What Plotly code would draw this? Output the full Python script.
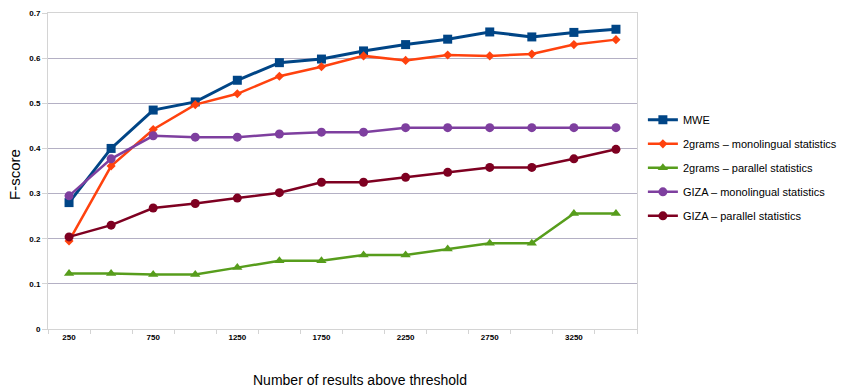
import plotly.graph_objects as go

x_values = [250, 500, 750, 1000, 1250, 1500, 1750, 2000, 2250, 2500, 2750, 3000, 3250, 3500]
x_labels = ["250", "", "750", "", "1250", "", "1750", "", "2250", "", "2750", "", "3250", ""]

mwe = [0.28, 0.40, 0.485, 0.503, 0.551, 0.590, 0.598, 0.616, 0.630, 0.642, 0.658, 0.647, 0.657, 0.664]
grams_mono = [0.195, 0.361, 0.442, 0.497, 0.521, 0.560, 0.581, 0.605, 0.595, 0.607, 0.605, 0.609, 0.630, 0.641]
grams_par = [0.123, 0.123, 0.121, 0.121, 0.136, 0.151, 0.151, 0.164, 0.164, 0.177, 0.190, 0.190, 0.256, 0.256]
giza_mono = [0.295, 0.377, 0.428, 0.425, 0.425, 0.432, 0.436, 0.436, 0.446, 0.446, 0.446, 0.446, 0.446, 0.446]
giza_par = [0.204, 0.230, 0.268, 0.278, 0.290, 0.302, 0.325, 0.325, 0.336, 0.347, 0.358, 0.358, 0.377, 0.398]

names = ["MWE", "2grams – monolingual statistics", "2grams – parallel statistics",
         "GIZA – monolingual statistics", "GIZA – parallel statistics"]
series = [mwe, grams_mono, grams_par, giza_mono, giza_par]
colors = ["#004586", "#ff420e", "#579d1c", "#7e3f9f", "#7e0021"]
symbols = ["square", "diamond", "triangle-up", "circle", "circle"]
msizes = [9, 7, 9, 9, 9]
lwidths = [3, 2.5, 2.5, 2.5, 2.5]

cats = [str(v) for v in x_values]

fig = go.Figure()
for i, (nm, ys) in enumerate(zip(names, series)):
    fig.add_trace(go.Scatter(
        x=cats, y=ys, name=nm, mode="lines+markers",
        line=dict(color=colors[i], width=lwidths[i]),
        marker=dict(symbol=symbols[i], size=msizes[i], color=colors[i]),
        legendgroup=f"g{i}",
    ))

grid = "#b4b0c4"
frame = "#d4d4d4"
fig.update_layout(
    width=851, height=392,
    margin=dict(l=48, r=200, t=9, b=63),
    plot_bgcolor="white", paper_bgcolor="white",
    font=dict(family="Liberation Sans, Arial, sans-serif", color="black"),
    showlegend=True,
    legend=dict(x=1.01, y=0.51, xanchor="left", yanchor="middle",
                font=dict(size=11, color="black"), tracegroupgap=5,
                bgcolor="rgba(0,0,0,0)"),
    xaxis=dict(
        type="category", tickmode="array", tickvals=cats, ticktext=x_labels,
        tickson="boundaries", ticks="outside", ticklen=4, tickcolor=frame,
        showgrid=False, showline=True, linecolor=frame, linewidth=1, mirror=True,
        tickfont=dict(size=8, weight="bold"),
        range=[-0.5, 13.5],
    ),
    yaxis=dict(
        range=[0, 0.7], dtick=0.1, tickformat=".1f",
        showgrid=True, gridcolor=grid, gridwidth=1,
        ticks="outside", ticklen=5, tickcolor=frame,
        showline=True, linecolor=frame, linewidth=1, mirror=True,
        tickfont=dict(size=8, weight="bold"), zeroline=False,
        tickvals=[0, 0.1, 0.2, 0.3, 0.4, 0.5, 0.6, 0.7],
        ticktext=["0", "0.1", "0.2", "0.3", "0.4", "0.5", "0.6", "0.7"],
    ),
)
fig.add_annotation(text="F-score", xref="paper", yref="paper", x=-0.058, y=0.49,
                   xanchor="center", yanchor="middle", textangle=-90, showarrow=False,
                   font=dict(size=15, color="black"))
fig.add_annotation(text="Number of results above threshold", xref="paper", yref="paper",
                   x=0.53, y=-0.1625, xanchor="center", yanchor="middle", showarrow=False,
                   font=dict(size=14, color="black"))

fig.write_html("out.html")
